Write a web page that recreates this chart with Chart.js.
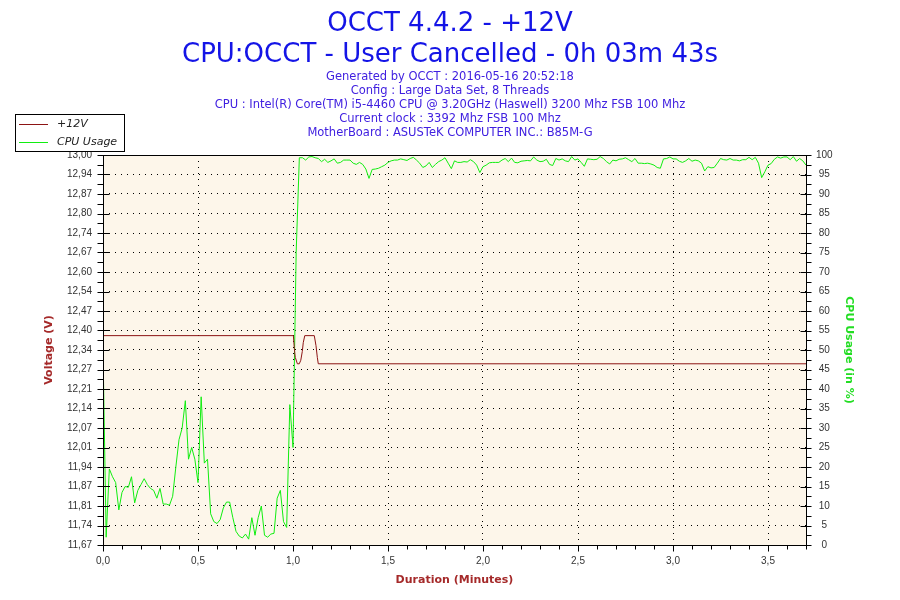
<!DOCTYPE html>
<html lang="en">
<head>
    <meta charset="UTF-8">
    <title>OCCT 4.4.2 - +12V</title>
    <script src="https://cdn.jsdelivr.net/npm/chart.js"></script>
    <style>
        body { margin: 0; background: #fff; }
        #wrap { position: relative; width: 900px; height: 600px; overflow: hidden; }
        #c { position: absolute; left: 0; top: 0; }
        .head { position: absolute; left: 0; width: 900px; text-align: center; font-family: "DejaVu Sans", sans-serif; white-space: nowrap; }
        .big { font-size: 26px; line-height: 30px; color: #1414e6; }
        .small { font-size: 11.5px; line-height: 14px; color: #4020e0; }
        #legend { position: absolute; left: 15px; top: 114px; width: 108px; height: 36px; border: 1px solid #000; background: #fff;
                  font-family: "DejaVu Sans", sans-serif; font-size: 11px; font-style: italic; color: #222; }
        #legend .row { position: absolute; left: 3px; height: 14px; line-height: 14px; }
        #legend .sw { display: inline-block; width: 29px; height: 0; border-top: 1px solid; vertical-align: middle; margin-right: 9px; }
    </style>
</head>
<body>
<div id="wrap">
    <canvas id="c" width="900" height="600"></canvas>
    <div class="head big" style="top:7px">OCCT 4.4.2 - +12V</div>
    <div class="head big" style="top:38px">CPU:OCCT - User Cancelled - 0h 03m 43s</div>
    <div class="head small" style="top:69px">Generated by OCCT : 2016-05-16 20:52:18</div>
    <div class="head small" style="top:83px">Config : Large Data Set, 8 Threads</div>
    <div class="head small" style="top:97px">CPU : Intel(R) Core(TM) i5-4460 CPU @ 3.20GHz (Haswell) 3200 Mhz FSB 100 Mhz</div>
    <div class="head small" style="top:111px">Current clock : 3392 Mhz FSB 100 Mhz</div>
    <div class="head small" style="top:125px">MotherBoard : ASUSTeK COMPUTER INC.: B85M-G</div>
    <div id="legend">
        <div class="row" style="top:2px"><span class="sw" style="border-color:#8c1414"></span>+12V</div>
        <div class="row" style="top:20px"><span class="sw" style="border-color:#11ee11"></span>CPU Usage</div>
    </div>
</div>
<script>
    // +12V readings (minutes, volts) - flat line with the glitch when the load starts
    const voltTime = [0, 1.002, 1.007, 1.012, 1.023, 1.033, 1.041, 1.049, 1.054, 1.062, 1.112, 1.121, 1.128, 1.133, 3.70];
    const voltValue = [12.384, 12.384, 12.34, 12.31, 12.288, 12.288, 12.30, 12.33, 12.36, 12.384, 12.384, 12.35, 12.31, 12.288, 12.288];

    // CPU usage in %, one reading per second from 0s
    const cpuUsage = [
        50, 2, 19.5, 17.5, 16, 9, 13.5, 15, 14.8, 17.5,
        10.8, 14, 15.5, 17, 15.5, 14.5, 14, 12, 14.5, 10.5,
        10.5, 10.2, 12.5, 20, 27, 30, 37, 22, 25, 22,
        16, 38, 21, 22, 8, 6, 5.5, 6.5, 9.5, 11,
        11, 7, 3.5, 2.3, 1.8, 2.8, 1.5, 7, 2.5, 7,
        10, 2.5, 2, 2.8, 3, 12, 14, 6, 4.5, 36,
        25, 75, 99.3, 99.3, 98.7, 99.5, 99.6, 99.3, 99.1, 98.3,
        98.9, 98.1, 98.5, 99, 97.9, 98.1, 98.7, 98.7, 98.7, 97.9,
        97.6, 98.1, 97.6, 96.4, 94, 96.3, 96.4, 96.6, 97, 97.4,
        98.1, 98.5, 98.7, 98.7, 99, 98.8, 98.6, 99.1, 99.4, 98.7,
        97.9, 96.8, 97.2, 98.1, 96.8, 97.6, 98.3, 98.7, 99.3, 97.9,
        96.5, 98.5, 98.1, 98.1, 98.3, 98.2, 98.8, 98.3, 97.4, 95.5,
        97, 97.4, 98, 98.1, 98.1, 98.1, 98.7, 99.1, 98.3, 99.2,
        98.1, 98, 98.4, 98.5, 98.6, 98.5, 99.5, 98.7, 98.3, 98.4,
        98.9, 97.6, 97.3, 99.1, 98.7, 99, 98.5, 98.3, 99.6, 98.7,
        99, 98.1, 97.1, 99, 98.9, 98.8, 98.9, 99.6, 99.1, 98.3,
        97.7, 98.7, 98.5, 98.9, 99, 99.3, 98.8, 98.3, 99.1, 97.9,
        97.9, 97.8, 97.9, 97.7, 97.4, 96.8, 96.6, 99, 99.1, 99.5,
        99, 99, 98.4, 98.1, 98.5, 99.1, 98.4, 98.7, 98.5, 97.9,
        95.9, 97, 96.7, 96.8, 97.9, 99.1, 98.8, 98.7, 99.1, 98.7,
        98.7, 98.5, 98.8, 98.8, 99.4, 98.8, 99.4, 97.9, 94.2, 95.7,
        97.4, 97.8, 98.9, 99.5, 99.2, 99.5, 99.5, 98.8, 99.6, 98.4,
        99.1, 98.5, 97.4
    ];

    const voltTickLabels = ['11,67', '11,74', '11,81', '11,87', '11,94', '12,01', '12,07', '12,14', '12,21', '12,27', '12,34',
                            '12,40', '12,47', '12,54', '12,60', '12,67', '12,74', '12,80', '12,87', '12,94', '13,00'];
    const timeTickLabels = ['0,0', '0,5', '1,0', '1,5', '2,0', '2,5', '3,0', '3,5'];

    const V_MIN = 11.67, V_MAX = 13.00, T_MAX = 3.7;
    const tickFont = { family: 'Liberation Sans', size: 10 };
    const titleFont = { family: 'DejaVu Sans', size: 11, weight: 'bold' };

    // cream plot background, frame and the small tick marks
    const plotDecor = {
        id: 'plotDecor',
        beforeDraw(chart) {
            const a = chart.chartArea, ctx = chart.ctx;
            ctx.save();
            ctx.fillStyle = '#fdf6ea';
            ctx.fillRect(a.left, a.top, a.right - a.left, a.bottom - a.top);
            ctx.restore();
        },
        afterDraw(chart) {
            const a = chart.chartArea, ctx = chart.ctx;
            const L = Math.round(a.left) + 0.5, R = Math.round(a.right) + 0.5;
            const T = Math.round(a.top) + 0.5, B = Math.round(a.bottom) + 0.5;
            ctx.save();
            ctx.strokeStyle = '#000';
            ctx.lineWidth = 1;
            ctx.strokeRect(L, T, R - L, B - T);
            ctx.beginPath();
            const xs = chart.scales.x;
            for (let i = 0; i <= 37; i++) {
                const px = Math.round(xs.getPixelForValue(i / 10)) + 0.5;
                ctx.moveTo(px, B);
                ctx.lineTo(px, B + (i % 5 === 0 ? 6 : 4));
            }
            const ys = chart.scales.y;
            for (let i = 0; i <= 40; i++) {
                const py = Math.round(ys.getPixelForValue(V_MIN + i * (V_MAX - V_MIN) / 40)) + 0.5;
                ctx.moveTo(L - 6, py);
                ctx.lineTo(i % 2 === 0 ? L + 6 : L, py);
            }
            const y2 = chart.scales.y2;
            for (let i = 0; i <= 40; i++) {
                const py = Math.round(y2.getPixelForValue(i * 2.5)) + 0.5;
                ctx.moveTo(i % 2 === 0 ? R - 6 : R, py);
                ctx.lineTo(R + 5, py);
            }
            ctx.stroke();
            ctx.restore();
        }
    };

    new Chart(document.getElementById('c'), {
        type: 'line',
        data: {
            datasets: [{
                label: '+12V',
                data: voltTime.map((t, i) => ({ x: t, y: voltValue[i] })),
                yAxisID: 'y',
                borderColor: '#8c1414',
                borderWidth: 1,
                pointRadius: 0,
                tension: 0
            }, {
                label: 'CPU Usage',
                data: cpuUsage.map((v, i) => ({ x: i / 60, y: v })),
                yAxisID: 'y2',
                borderColor: '#11ee11',
                borderWidth: 1,
                pointRadius: 0,
                tension: 0
            }]
        },
        options: {
            responsive: false,
            animation: false,
            layout: { padding: { top: 155, left: 0, right: 0, bottom: 0 } },
            plugins: { legend: { display: false }, tooltip: { enabled: false } },
            scales: {
                x: {
                    type: 'linear',
                    min: 0,
                    max: T_MAX,
                    afterBuildTicks: s => { s.ticks = Array.from({ length: 38 }, (_, i) => ({ value: i / 10 })); },
                    afterFit: s => { s.height = 55; },
                    ticks: {
                        autoSkip: false, maxRotation: 0, padding: 10, color: '#333', font: tickFont,
                        callback: (v, i) => (i % 5 === 0 ? timeTickLabels[i / 5] : '')
                    },
                    grid: {
                        drawTicks: false,
                        color: c => (c.index % 5 === 0 && c.index > 0 ? '#000' : 'transparent')
                    },
                    border: { display: false, dash: [1, 5] },
                    title: { display: true, text: 'Duration (Minutes)', color: '#a52a2a', font: titleFont, padding: { top: 13, bottom: 13 } }
                },
                y: {
                    position: 'left',
                    min: V_MIN,
                    max: V_MAX,
                    afterBuildTicks: s => { s.ticks = voltTickLabels.map((_, i) => ({ value: V_MIN + i * (V_MAX - V_MIN) / 20 })); },
                    afterFit: s => { s.width = 103; },
                    ticks: { padding: 11, color: '#333', font: tickFont, callback: (v, i) => voltTickLabels[i] },
                    grid: {
                        drawTicks: false,
                        color: c => (c.index > 0 && c.index < 20 ? '#000' : 'transparent')
                    },
                    border: { display: false, dash: [1, 5] },
                    title: { display: true, text: 'Voltage (V)', color: '#a52a2a', font: titleFont, padding: { top: 43, bottom: 43 } }
                },
                y2: {
                    position: 'right',
                    min: 0,
                    max: 100,
                    afterFit: s => { s.width = 94; },
                    ticks: { stepSize: 5, padding: 10, crossAlign: 'center', color: '#333', font: tickFont },
                    grid: { display: false, drawTicks: false },
                    border: { display: false },
                    title: { display: true, text: 'CPU Usage (in %)', color: '#22dd22', font: titleFont, padding: { top: 45, bottom: 45 } }
                }
            }
        },
        plugins: [plotDecor]
    });
</script>
</body>
</html>
